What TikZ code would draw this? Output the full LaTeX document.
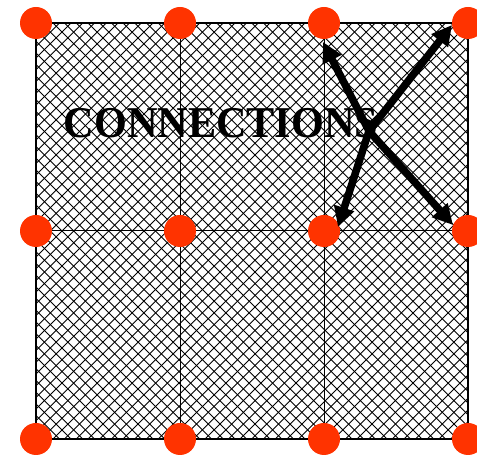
\documentclass[tikz,border=0pt]{standalone}
\usepackage{fontspec}
\setmainfont{Liberation Serif}
\usetikzlibrary{arrows.meta}
\definecolor{dotred}{HTML}{FF3300}
\begin{document}
\begin{tikzpicture}[x=1pt,y=1pt,
	  vert/.style={circle, fill=dotred, inner sep=0pt, minimum size=32pt},
	  hatch/.style={line width=0.9pt},
	  link/.style={line width=7.5pt, -{Triangle[length=20pt,width=20pt]}}]
	  \useasboundingbox (0,0) rectangle (477,455);
	  \coordinate (1) at (36,432);
	  \coordinate (2) at (180,432);
	  \coordinate (3) at (324,432);
	  \coordinate (4) at (468,432);
	  \coordinate (5) at (36,224);
	  \coordinate (6) at (180,224);
	  \coordinate (7) at (324,224);
	  \coordinate (8) at (468,224);
	  \coordinate (9) at (36,16);
	  \coordinate (10) at (180,16);
	  \coordinate (11) at (324,16);
	  \coordinate (12) at (468,16);
	  
	  % hatched board
	  \begin{scope}
	    \clip (1) rectangle (12);
	    \foreach \i in {0,...,76} {
	      \draw[hatch] (-380+11.7*\i,16) -- ++(416,416);
	      \draw[hatch] (36+11.7*\i,16) -- ++(-416,416);
	    }
	  \end{scope}
	  \draw[line width=1pt] (2) -- (10);
	  \draw[line width=1pt] (3) -- (11);
	  \draw[line width=1pt] (5) -- (8);
	  \draw[line width=1.6pt] (1) rectangle (12);
	  
	  \node[font=\fontsize{44}{44}\selectfont\bfseries, xscale=0.96] (label) at (221,332) {CONNECTIONS};
	  
	  \foreach \n in {1,...,12}
	    \node[vert] (v\n) at (\n) {};
	  
	  % four arrows out of one junction
	  \coordinate (hub) at (369,324);
	  \coordinate (t3) at (323,413);
	  \coordinate (t4) at (452,430);
	  \coordinate (t7) at (338,228);
	  \coordinate (t8) at (453,230);
	  \draw[link] (hub) -- (t3);
	  \draw[link] (hub) -- (t4);
	  \draw[link] (hub) -- (t7);
	  \draw[link] (hub) -- (t8);
	\end{tikzpicture}
\end{document}
